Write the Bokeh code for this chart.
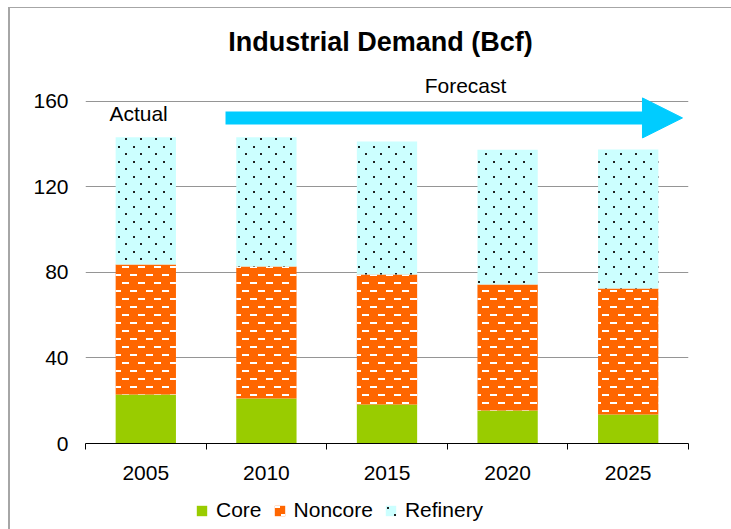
from bokeh.plotting import figure
from bokeh.layouts import column
from bokeh.models import (ColumnDataSource, FixedTicker, Label, Arrow, NormalHead,
                          Legend, LegendItem, Range1d, CanvasTexture)
from bokeh.embed import file_html
from bokeh.resources import INLINE

# ---- data ----
years = ["2005", "2010", "2015", "2020", "2025"]
core = [22.9, 21.1, 18.2, 15.4, 13.6]
noncore = [60.8, 61.7, 60.9, 59.0, 58.9]
refinery = [59.6, 60.5, 62.2, 63.0, 65.0]
y_ticks = [0, 40, 80, 120, 160]
series = ["Core", "Noncore", "Refinery"]

FONT = "Liberation Sans"
fills = ["#99CC00", "#FF6600", "#CCFFFF"]
hatch_colors = ["white", "white", "#333333"]
patterns = ["blank", "horizontal_dash", "dot"]
scales = [16, 16, 15]

xs = [i + 0.5 for i in range(len(years))]
src = ColumnDataSource(dict(x=xs, Core=core, Noncore=noncore, Refinery=refinery))

# staggered white dashes (Noncore) and staggered dark dots (Refinery)
dash_tex = CanvasTexture(code="""
var c = ctx.canvas; c.width = 16; c.height = 16;
ctx.fillStyle = "#ffffff";
ctx.fillRect(0, 2, 7, 2);
ctx.fillRect(8, 10, 7, 2);
""")
dot_tex = CanvasTexture(code="""
var c = ctx.canvas; c.width = 15; c.height = 15;
ctx.fillStyle = "#222222";
ctx.fillRect(3, 3, 2, 2);
ctx.fillRect(10, 10, 2, 2);
""")
extra = {"horizontal_dash": dash_tex, "dot": dot_tex}

p = figure(width=721, height=490, title=None,
           x_range=Range1d(0, len(years)), y_range=Range1d(0, 196.0),
           output_backend="svg", toolbar_location=None,
           min_border_left=75, min_border_right=43,
           min_border_top=16, min_border_bottom=55)
p.outline_line_color = None
p.background_fill_color = "white"
p.border_fill_color = "white"

rs = p.vbar_stack(series, x="x", width=0.5, source=src,
                  fill_color=fills, line_color=None,
                  hatch_pattern=patterns, hatch_extra=extra,
                  hatch_color=hatch_colors, hatch_scale=scales,
                  hatch_weight=[1, 1, 1])

# axes
p.xgrid.visible = False
p.ygrid.ticker = FixedTicker(ticks=y_ticks)
p.ygrid.grid_line_color = "#959595"
p.ygrid.grid_line_width = 1

p.yaxis.ticker = FixedTicker(ticks=y_ticks)
p.yaxis.axis_line_color = None
p.yaxis.major_tick_line_color = None
p.yaxis.minor_tick_line_color = None
p.yaxis.major_label_standoff = 11
p.yaxis.major_label_text_font = FONT
p.yaxis.major_label_text_font_size = "21px"
p.yaxis.major_label_text_color = "black"

p.xaxis.ticker = FixedTicker(ticks=xs, minor_ticks=list(range(len(years) + 1)))
p.xaxis.major_label_overrides = {x: y for x, y in zip(xs, years)}
p.xaxis.major_tick_line_color = None
p.xaxis.minor_tick_in = 0
p.xaxis.minor_tick_out = 6
p.xaxis.minor_tick_line_color = "black"
p.xaxis.axis_line_color = "black"
p.xaxis.major_label_standoff = 16
p.xaxis.major_label_text_font = FONT
p.xaxis.major_label_text_font_size = "21px"
p.xaxis.major_label_text_color = "black"

# texts
p.add_layout(Label(x=2.446, y=187.6, text="Industrial Demand (Bcf)", text_align="center",
                   text_baseline="middle", text_font=FONT, text_font_style="bold",
                   text_font_size="27px", text_color="black"))
p.add_layout(Label(x=3.151, y=167.5, text="Forecast", text_align="center",
                   text_baseline="middle", text_font=FONT, text_font_size="21px",
                   text_color="black"))
p.add_layout(Label(x=0.44, y=154.4, text="Actual", text_align="center",
                   text_baseline="middle", text_font=FONT, text_font_size="21px",
                   text_color="black"))

# arrow
p.add_layout(Arrow(x_start=1.161, y_start=152.3, x_end=4.95, y_end=152.3,
                   line_color="#00CCFF", line_width=13,
                   end=NormalHead(size=40, fill_color="#00CCFF", line_color="#00CCFF")))

# ---- legend strip (separate figure, so the legend is not clipped) ----
# same stacked bars, lying below this strip's visible y range
pl = figure(width=721, height=31, title=None,
            x_range=Range1d(0, len(years)), y_range=Range1d(1000, 1001),
            output_backend="svg", toolbar_location=None,
            x_axis_location=None, y_axis_location=None,
            min_border=0, min_border_left=75, min_border_right=43,
            min_border_top=0, min_border_bottom=0)
pl.outline_line_color = None
pl.xgrid.visible = False
pl.ygrid.visible = False
pl.background_fill_color = None
pl.border_fill_color = None

legend_x = 110
if "frame_align" in pl.properties():
    pl.frame_align = False
    pl.min_border_left = 0
    pl.min_border_right = 0
    legend_x = 185

lrs = pl.vbar_stack(series, x="x", width=0.5, source=src,
                    fill_color=fills, line_color=None,
                    hatch_pattern=patterns, hatch_extra=extra,
                    hatch_color=hatch_colors, hatch_scale=scales,
                    hatch_weight=[1, 1, 1])

legend = Legend(items=[LegendItem(label=s, renderers=[r]) for s, r in zip(series, lrs)],
                orientation="horizontal", location=(legend_x, 7),
                glyph_width=13, glyph_height=13, label_standoff=8, spacing=11,
                padding=0, margin=0, border_line_color=None,
                background_fill_alpha=0,
                label_text_font=FONT, label_text_font_size="21px",
                label_text_color="black")
pl.add_layout(legend, "center")

layout = column(p, pl, spacing=0)
layout.styles = {"margin-left": "8px", "margin-top": "7px",
                 "border-left": "2px solid #a6a6a6", "border-top": "1px solid #a6a6a6"}

open("out.html", "w").write(file_html(layout, INLINE))
